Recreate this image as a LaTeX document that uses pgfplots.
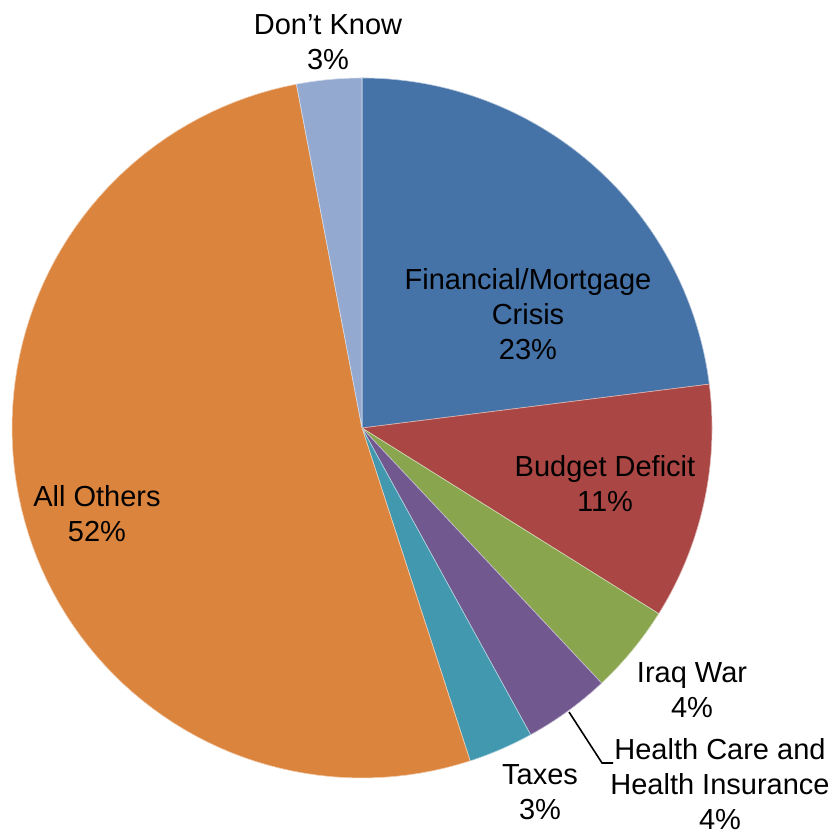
\documentclass[border=0pt]{standalone}
\usepackage{fontspec}
\setmainfont{Liberation Sans}
\usepackage{pgfplots}
\pgfplotsset{compat=1.18}
\definecolor{Cfin}{HTML}{4572A7}
\definecolor{Cbud}{HTML}{AA4643}
\definecolor{Ciraq}{HTML}{89A54E}
\definecolor{Chealth}{HTML}{71588F}
\definecolor{Ctax}{HTML}{4198AF}
\definecolor{Cother}{HTML}{DB843D}
\definecolor{Cdk}{HTML}{93A9CF}
\tikzset{lbl/.style={font=\fontsize{14.5pt}{17.5pt}\selectfont, align=center, inner sep=0pt}}
\begin{document}
\begin{tikzpicture}
\begin{axis}[
  hide axis,
  x=0.5pt, y=0.5pt,
  xmin=-362, xmax=476,
  ymin=-405, ymax=428,
  clip=false,
]
% shares in percent, clockwise from 12 o'clock
\gdef\cum{0}
\foreach \v/\c in {23.0/Cfin, 10.9/Cbud, 4.1/Ciraq, 4.0/Chealth, 3.0/Ctax, 52.0/Cother, 3.0/Cdk}{
  \pgfmathsetmacro\a{\cum*3.6}
  \pgfmathsetmacro\b{(\cum+\v)*3.6}
  \edef\tmp{\noexpand\addplot[fill=\c, draw=white!60!\c, line width=0.3pt,
    domain=\a:\b, samples=90] ({350*sin(x)},{350*cos(x)}) -- (axis cs:0,0) -- cycle;}
  \tmp
  \pgfmathsetmacro\n{\cum+\v}\xdef\cum{\n}
}
\node[lbl] at (axis cs:166,114) {Financial/Mortgage\\Crisis\\23\%};
\node[lbl] at (axis cs:243,-56) {Budget Deficit\\11\%};
\node[lbl] at (axis cs:330,-262) {Iraq War\\4\%};
\node[lbl] at (axis cs:358,-356) {Health Care and\\Health Insurance\\4\%};
\node[lbl] at (axis cs:178,-364) {Taxes\\3\%};
\node[lbl] at (axis cs:-265,-86) {All Others\\52\%};
\node[lbl] at (axis cs:-34,386) {Don’t Know\\3\%};
\draw[black, line width=0.8pt] (axis cs:207,-284) -- (axis cs:240,-335) -- (axis cs:251,-335);
\end{axis}
\pgfresetboundingbox
\path (current axis.south west) rectangle (current axis.north east);
\end{tikzpicture}
\end{document}
